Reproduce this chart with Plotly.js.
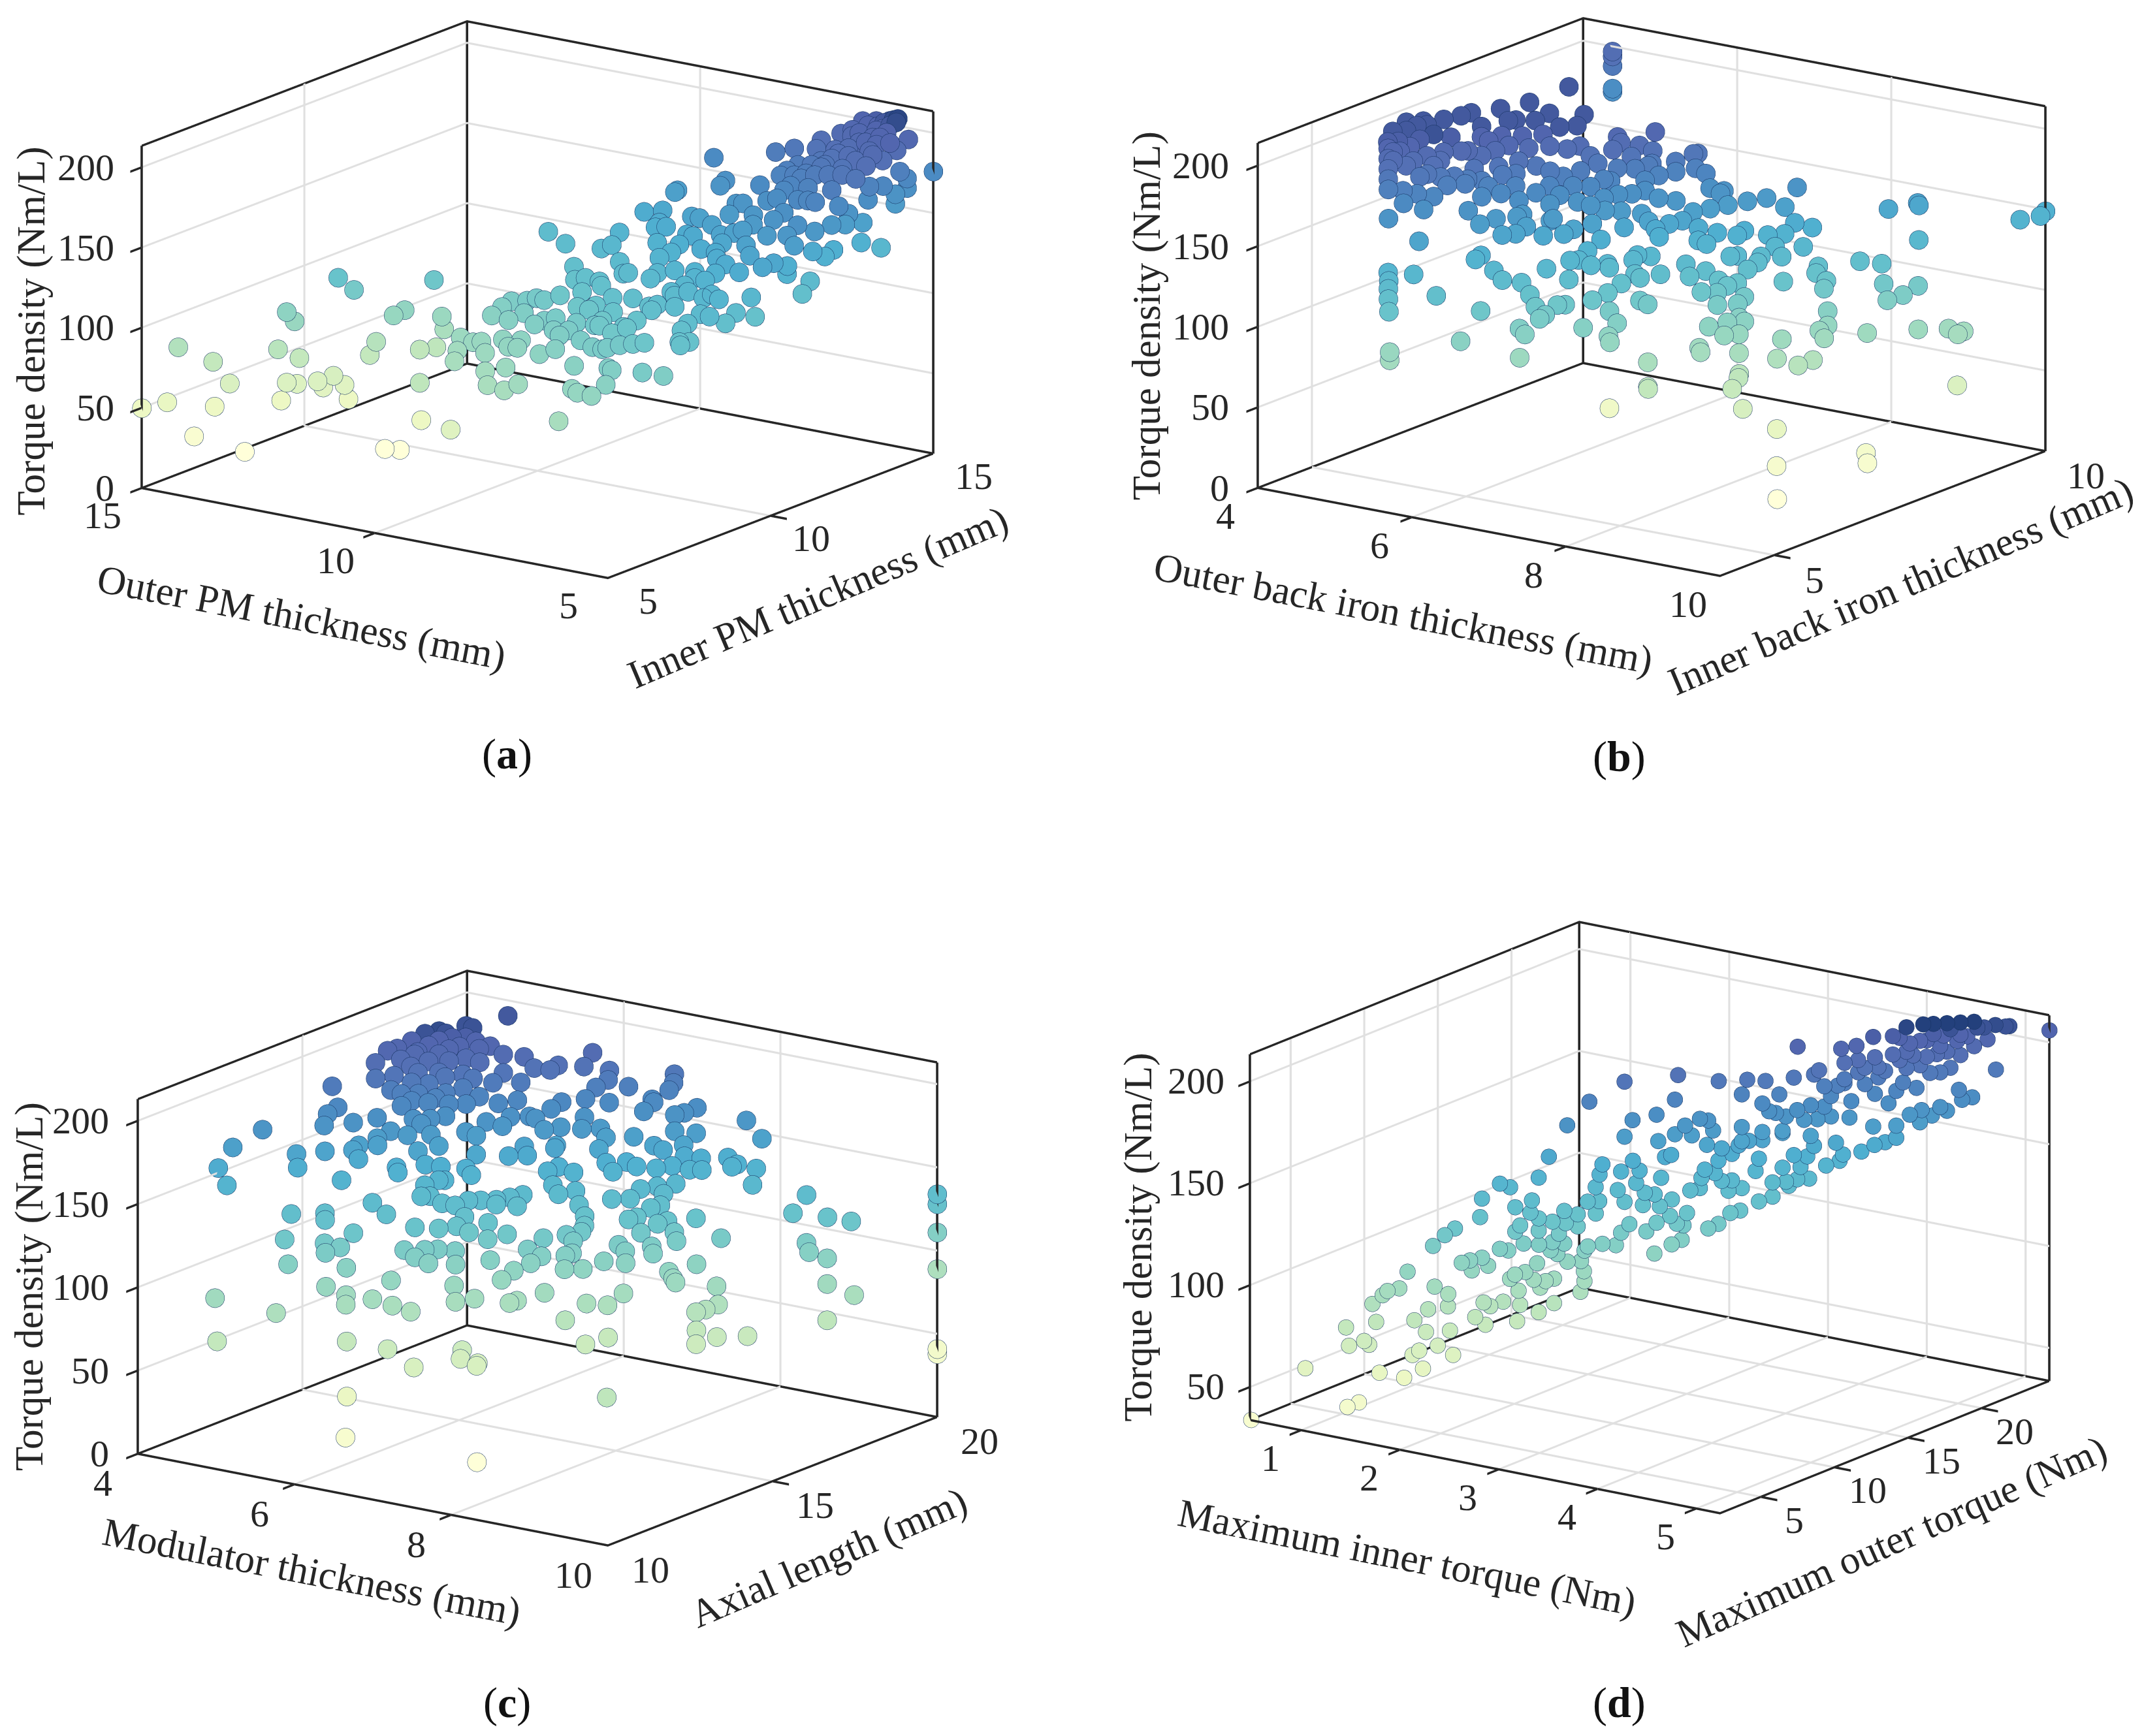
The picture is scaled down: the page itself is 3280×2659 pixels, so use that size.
<!DOCTYPE html>
<html><head><meta charset="utf-8"><script src="https://cdn.plot.ly/plotly-3.0.1.min.js"></script>
<style>html,body{margin:0;padding:0;background:#fff}#c{width:3280px;height:2659px}</style></head><body><div id="c"></div>
<script>
const W=3280,H=2659;
const aX=[15,14.68,14.54,14.34,14.10,14.08,13.89,13.70,13.28,13.24,13.17,13.17,13.07,13.04,13.01,12.78,12.71,12.58,12.44,12.39,12.52,12.32,12.12,12.04,11.93,11.74,11.82,11.68,11.49,10.19,10.57,11.31,11.28,11.21,11.18,9.20,
9.78,9.95,10.22,9.81,9.65,9.30,8.85,8.48,10.0,9.99,9.19,7.99,8.46,9.53,8.90,9.89,8.67,7.78,8.78,9.33,9.57,9.41,8.0,9.17,8.70,6.06,7.78,8.51,7.99,8.27,8.94,10.7,10.01,6.48,6.26,6.95,9.27,8.95,8.75,5.88,8.51,8.26,7.92,7.39,6.97,7.93,8.36,8.23,7.87,7.45,
7.31,6.69,5.79,6.14,6.01,6.61,7.32,7.68,6.85,9.08,8.94,9.06,8.38,8.01,7.91,6.74,6.65,6.41,6.15,5.91,7.19,5.25,5.0,9.0,8.61,7.26,8.38,8.38,8.13,7.96,7.55,7.4,6.66,6.49,6.48,6.92,7.4,6.47,6.34,7.49,7.79,7.56,7.28,5.14,5.0,5.0,5.36,6.04,5.35,6.29,6.11,5.6,5.28,5.0,5.0,5.49,5.21,5.0,5.0,5.0,5.0,5.0,
6.8,6.4,5.93,6.4,6.69,6.48,6.22,5.39,5.88,6.45,5.56,5.01,5,5,5,5,5,5,5,5,5.18,5,6.31,6.42,6.95,6.97,7.1,7.87,7.87,8.76,8.73,8.65,6.29,6.27,5.78,5.84,5.18,5,5,5,5,5,5,5,5,5,5,5,5,5,5,5,5,5.22,5.31,5.76,6.74,6.71,7.38,7.07,6.56,6.58,6.27,5.96,5.98,5.66,5.03,5.3,5,5,5,6.36,6.16,5.92,5.61,5.52,5.42,5.33,5.46,5.32,5.52,5.71,5.83,5.95,6.16,6.21,5.26,5.01,6.05,5.38,5.54,5.61,5.69,5.98,5.38,5.11,5.51,6.21,5.82,5.34,
6.43,5.96,5.65,6.08,6.63,5.94,5.56,5.36,6.16,5.85,6.31,6.46,6.19,5.64,6.97,7.13,5.88,5.99,6.34,7.25,6.61,7.39,7.93,8.82,5.53];
const aY=[5,5.32,5.46,5.66,5.90,5.92,6.11,6.30,6.72,6.76,6.83,6.83,6.93,6.96,6.99,7.22,7.29,7.42,7.56,7.61,7.48,7.68,7.88,7.96,8.07,8.26,8.18,8.32,8.51,6.65,7.24,8.69,8.72,8.79,8.82,6.18,
7.13,7.46,7.95,7.74,7.77,7.38,6.74,6.28,8.59,8.89,7.77,6.09,6.81,8.43,7.52,9.04,7.47,6.22,7.74,8.62,9.06,9.12,7.19,9.01,8.34,5.0,7.36,8.42,7.79,8.01,9.17,11.33,10.87,6.01,5.86,6.75,10.07,9.64,9.68,5.75,9.23,8.73,8.21,7.58,7.34,8.61,9.55,9.42,8.74,8.10,
8.04,7.24,6.06,6.64,6.56,7.28,8.48,8.98,7.77,10.64,10.76,11.17,10.2,9.78,9.79,7.97,7.94,7.38,7.41,7.42,8.9,6.41,6.7,11.84,11.85,9.54,11.42,11.3,11.27,10.75,10.23,10.38,8.64,8.65,8.46,9.8,10.63,9.05,8.96,10.99,11.57,11.48,10.88,7.39,7.22,7.5,7.77,8.54,7.95,9.51,9.05,8.79,8.24,8.12,8.61,8.89,8.71,8.93,9.52,9.4,10.97,11.21,
10.44,9.67,9.63,10.31,10.88,10.63,10.09,9.59,9.87,10.95,10.16,9.76,10.09,10.51,10.5,11.29,11.66,11.93,12.78,13.39,10.76,10.72,11.01,11.5,11.94,12.49,11.95,12.56,12.72,12.44,12.48,13.48,12.04,12.43,11.52,11.29,11.08,11.35,11.87,12.29,12.83,12.39,12.09,12.99,13.83,13.83,14.19,14.19,13.97,15,13.45,13.03,12.61,12.19,11.81,11.92,12.79,12.95,13.56,13.69,13.64,13.1,13.07,13.05,13.28,13.33,12.97,13.46,13.44,13.87,14.23,14.11,14.17,14.31,14.12,14.2,14.27,14.33,14.43,14.02,13.88,13.73,13.58,13.44,13.21,12.82,13.62,13.68,14.0,14.45,14.44,14.36,14.29,12.96,13.15,13.29,12.93,12.67,12.32,12.68,
12.77,12.73,12.70,13.53,13.89,14.07,13.72,13.87,14.49,14.46,12.28,11.98,11.16,10.8,11.55,11.24,10.5,9.4,9.27,9.74,8.19,8.25,7.98,8.21,11.9];
const aZ=[50,53,87,31,77,49,63,20,83,51,106,62,100,61,77,62,58,65,59,50,126,118,77,85,18,17,101,104,79,80,50,122,80,99,91,60,
92,95,98,99,100,98,94,91,108,111,104,92,98,109,103,114,104,96,106,113,116,118,106,119,114,92,109,116,113,113,122,135,135,102,102,108,131,128,130,103,126,122,118,115,115,123,131,130,125,120,
121,116,108,112,112,117,126,129,121,139,141,145,138,136,137,124,124,119,121,123,132,116,113,153,156,139,153,151,153,148,145,148,132,134,132,144,151,139,138,154,159,160,155,128,128,128,131,136,134,145,141,142,138,139,131,144,144,135,128,141,131,137,
153,147,149,154,159,157,153,153,153,161,158,157,157,152,147,155,149,151,149,141,168,163,163,168,169,176,168,170,172,162,163,176,175,180,173,170,172,167,167,164,161,170,177,174,165,171,178,172,184,176,179,182,190,185,180,178,181,183,186,189,192,186,188,190,192,195,195,199,195,198,202,199,202,205,205,206,208,210,210,206,203,200,197,194,190,185,202,204,200,211,209,208,206,189,195,199,191,183,182,190,
183,186,188,195,195,202,201,204,205,207,178,173,166,165,165,160,160,146,142,141,127,122,115,112,179];

const bX=[5.23,5.08,5.03,4.98,4.93,4.88,4.84,5.50,5.55,5.58,5.63,5.70,5.71,5.71,
4.92,4.78,4.76,4.83,4.98,5.03,5.06,5.14,4.85,4.92,4.94,5.10,5.21,5.63,5.96,5.20,4.38,4.38,4.38,4.38,4.38,
6.75,6.50,6.55,6.70,6.83,6.53,5.32,5.43,5.34,5.44,5.49,5.94,6.03,6.15,5.75,5.91,6.05,6.19,6.27,5.20,5.13,5.50,5.60,5.58,5.65,5.80,5.67,5.61,5.73,5.85,5.94,6.05,6.18,6.30,6.40,6.49,6.66,6.79,6.89,7.05,7.10,7.14,7.17,7.23,7.33,7.44,7.55,7.54,7.65,7.77,7.90,8.07,8.08,8.23,8.38,8.09,8.21,8.41,7.90,7.71,7.87,7.69,7.55,7.61,7.54,7.43,7.39,7.31,7.24,7.06,6.90,6.78,6.55,6.53,6.37,6.18,6.10,5.93,5.80,5.62,5.50,5.45,5.44,5.27,5.20,5.32,
5.78,5.93,6.02,6.16,6.28,6.15,6.24,6.45,6.43,6.64,6.59,6.75,6.89,7.0,7.15,7.30,7.25,7.11,6.97,6.89,6.79,6.61,7.0,6.87,6.92,
5.57,6.07,6.10,6.26,6.37,5.69,5.97,6.37,6.37,6.89,6.52,6.65,6.75,6.64,6.86,6.84,6.87,6.90,6.96,6.74,6.81,7.20,6.77,6.83,6.95,6.85,7.06,7.09,7.13,7.21,7.26,7.31,7.43,7.43,7.47,
7.23,7.34,7.23,7.31,7.37,7.50,7.48,7.56,7.64,7.73,7.82,7.89,8.01,8.07,7.96,8.05,8.11,8.23,8.22,8.29,8.35,8.22,8.12,8.27,8.37,8.15,8.19,8.47,7.85,7.97,7.98,6.88,8.60,8.58,8.59,8.78,9.13,9.31,9.48,9.90,9.96,10,
8.78,8.97,9.05,8.71,8.95,9.02,8.91,8.98,9.31,9.67,9.88,9.98,10,8.77,8.76,8.64,8.62,8.44,8.90,9.07,9.18,9.29,9.38,9.45,9.22,8.84,9.03,9.06,9.86,9.99,10,8.15,8.11,7.97,7.92,8.20,8.30,8.15,
5.10,5.29,5.30,5.28,5.48,5.68,5.90,5.78,5.61,5.30,5.25,5.40,5.80,6.0,6.25,6.42,6.71,6.65,6.34,6.19,6.48,6.40,6.70,6.67,5.50,4.68,4.59,4.71,4.93,4.98];
const bY=[4.66,4.87,4.94,5.01,5.08,5.15,5.20,4.27,4.21,4.16,4.09,4.0,4,4,
5.28,5.63,5.85,5.94,5.23,5.34,5.48,5.62,6.22,6.44,6.60,6.91,7.29,7.06,7.23,8.03,10,10,10,10,10,
7.42,7.08,7.07,7.20,7.26,6.95,5.49,5.72,6.22,6.57,6.64,6.50,6.68,6.83,6.14,6.28,6.47,6.59,6.71,5.41,5.26,5.49,5.85,6.01,6.15,6.32,6.74,5.58,5.67,5.88,6.0,6.22,6.29,6.36,6.54,6.73,6.85,6.99,7.16,7.37,7.30,7.57,7.61,7.48,7.53,7.45,7.55,7.50,7.48,7.67,7.84,8.16,7.92,7.89,8.0,7.59,7.73,7.79,7.43,7.20,7.34,7.03,7.08,6.99,7.31,7.15,7.01,6.88,6.73,6.73,6.58,6.45,6.51,6.30,6.20,6.03,5.83,5.74,5.57,5.52,5.36,5.18,5.01,4.88,4.97,5.06,
5.35,5.35,5.52,5.71,5.71,5.45,5.57,5.78,5.94,6.07,5.96,6.26,6.22,6.49,6.73,6.71,7.09,6.97,6.92,6.79,6.68,6.67,7.13,7.12,6.99,
4.74,5.07,5.13,5.14,5.14,4.47,4.49,4.74,4.37,4.72,5.28,5.25,5.21,5.57,5.67,5.16,5.22,5.40,5.46,4.93,4.93,5.45,5.82,5.89,5.95,6.03,6.10,6.09,5.72,5.89,6.07,5.78,5.75,5.59,5.56,
6.33,6.50,6.41,6.25,6.26,6.45,6.10,6.13,6.72,6.66,6.83,6.65,6.77,6.69,6.87,6.90,7.0,6.96,6.85,6.78,6.79,6.66,6.46,6.53,6.66,6.24,6.21,6.52,5.72,5.55,5.54,6.39,6.21,6.37,6.34,6.15,6.28,6.02,5.79,6.83,6.77,8.37,
6.78,6.90,7.06,6.97,7.32,7.31,7.53,7.43,7.69,8.12,8.38,8.41,8.49,7.66,7.72,7.70,7.77,7.38,8.14,8.30,8.18,8.09,8.25,8.43,8.77,8.75,9.02,9.0,9.73,9.92,10,7.32,7.19,7.20,7.14,7.57,7.55,7.38,
5.17,5.29,5.58,5.74,5.77,5.99,6.11,5.91,5.70,5.39,5.21,5.38,5.69,5.91,6.18,6.37,6.53,6.37,6.06,5.77,5.92,6.72,7.05,6.71,5.99,5.52,5.90,6.04,5.17,5.10];
const bZ=[170,184,189,194,199,204,207,144,140,136,131,125,100,95,
207,208,208,208,202,204,207,209,208,208,208,208,208,208,208,208,197,194,188,174,172,
202,201,198,196,193,195,196,200,208,208,208,205,208,208,201,199,199,197,198,199,197,188,197,204,206,205,208,186,185,187,187,190,187,184,186,189,186,185,187,187,182,190,190,183,180,173,171,170,164,165,166,170,161,153,150,148,148,141,151,151,149,146,154,148,163,162,158,157,155,163,165,166,178,171,175,177,174,178,177,184,184,179,173,177,183,181,
171,164,166,166,161,158,158,156,163,158,156,160,152,157,159,151,168,170,174,173,173,181,181,186,179,
158,147,149,141,136,142,131,122,108,98,134,128,122,140,134,116,118,122,122,112,109,110,143,143,140,147,140,138,123,126,130,117,111,105,102,
141,142,143,134,132,133,121,119,137,131,133,123,122,116,128,125,126,119,116,109,107,107,106,101,101,96,94,92,91,79,78,45,75,82,80,65,54,36,20,39,34,62,
88,84,86,97,100,96,109,102,97,97,96,93,94,120,124,128,131,125,132,130,120,112,114,118,140,156,158,157,146,147,149,135,132,139,139,142,137,138,
195,190,200,207,200,199,193,191,191,194,189,188,182,181,180,179,172,169,171,167,165,193,191,180,206,208,208,208,202,198];

const cX=[5.14,5.04,5.14,4.96,4.86,4.80,5.03,5.11,4.73,4.66,4.64,4.73,4.86,4.82,4.90,4.97,5.10,5.22,5.32,5.47,5.62,5.81,6.14,6.34,6.35,6.10,5.96,5.94,5.73,5.48,5.35,5.23,5.06,4.95,5.03,4.93,5.05,5.19,5.29,5.50,5.68,5.42,5.39,5.31,5.16,5.11,
4.42,4.60,4.55,4.59,4.12,4,4,4.16,4.54,4.63,4.76,4.81,4.98,5.10,5.15,4.99,4.97,5.07,5.17,5.33,5.28,5.42,5.53,5.52,5.48,5.79,5.89,5.89,6.05,6.06,6.01,5.88,6.21,6.27,6.41,6.34,6.53,6.39,6.71,6.56,6.66,6.58,6.58,6.63,6.77,6.84,7.11,7.10,7.14,7.14,7.18,7.19,7.52,7.38,7.45,7.67,7.48,7.18,6.86,6.96,6.97,7.11,7.22,7.27,7.38,7.55,7.40,7.50,7.64,7.71,7.67,7.83,7.94,7.86,8.07,8.16,8.19,8.0,8.24,8.37,8.44,8.93,8.94,9.24,9.46,9.22,9.30,9.48,9.64,9.93,9.85,10,10,10,10,10,10,
6.28,6.43,6.35,6.60,6.61,6.69,6.76,6.90,6.82,6.92,7.03,7.15,7.26,7.32,7.32,7.22,7.31,7.34,7.38,7.41,7.56,6.99,7.15,7.06,7.10,7.01,6.96,7.39,7.22,7.17,7.73,7.80,7.98,8.04,8.18,8.03,7.68,7.70,7.79,7.87,7.98,8.04,8.28,8.35,8.39,8.46,8.50,8.75,8.87,8.74,8.80,8.85,8.93,9.06,9.30,8.08,8.15,7.90,7.81,7.63,7.69,7.75,7.96,7.81,7.77,7.80,7.52,7.37,7.54,7.66,8.18,
6.01,6.09,6.01,5.79,5.65,5.85,5.90,5.77,5.80,5.87,6.02,6.14,6.22,6.32,6.44,6.54,6.63,6.65,6.47,6.29,6.28,6.14,5.95,6.51,6.74,6.61,6.41,6.76,6.41,6.26,6.16,5.99,6.13,6.27,6.49,6.61,6.72,6.85,6.07,6.03,5.79,5.85,5.58,5.63,5.48,5.45,5.64,5.06,5.48,5.43,4.86,5.13,5.17,4.96,5.13,5.31,5.38,5.46,4.74,5.33,5.01,6.08,6.45,6.78,7.07,7.10,7.27,7.28,6.41,6.64,7.86,9.66,6.23,6.41,
5.04,5.21,5.52,5.71,5.17,5.34,5.62,4.91,5.15,5.40,5.02,5.22,5.38,5.65,5.51];
const cY=[18.52,17.49,17.45,16.86,16.67,16.41,16.90,16.90,16.14,16.01,15.69,15.48,15.73,16.03,16.26,16.52,16.52,16.86,17.12,17.20,17.24,17.42,17.67,18.24,17.95,17.52,17.37,17.01,16.98,16.86,16.75,16.52,16.30,16.03,15.55,15.47,15.81,16.0,16.26,16.30,16.37,16.49,16.04,15.70,15.55,15.36,
14.90,14.64,14.45,14.25,13.50,12.88,12.44,12.32,13.53,13.35,13.87,14.61,14.93,14.65,14.54,14.35,14.22,14.15,14.89,15.02,15.32,15.50,15.70,15.28,15.92,15.70,15.78,16.08,16.19,16.41,16.74,16.47,16.63,16.67,16.60,16.98,16.82,17.18,17.03,17.50,17.23,17.77,18.18,18.02,17.72,18.14,17.96,18.24,18.19,18.82,18.70,18.54,18.60,18.26,18.38,18.22,18.02,17.49,17.24,17.17,16.93,16.82,16.76,17.06,17.10,17.29,17.58,17.62,17.91,17.77,17.49,17.64,17.75,17.92,18.23,18.14,18.23,18.96,18.86,18.38,18.10,18.16,18.55,18.47,18.67,17.88,17.77,17.89,17.51,17.64,17.01,20,20,20,20,20,20,
15.83,16.04,16.14,16.52,16.45,16.04,16.21,16.33,15.89,15.82,16.08,15.90,15.81,15.66,15.57,15.35,15.34,15.03,15.14,14.84,15.04,14.72,14.76,15.03,14.55,14.25,14.0,14.28,13.85,13.74,14.10,14.58,14.79,15.13,14.33,14.0,15.39,15.79,15.78,15.60,16.13,16.03,15.94,15.90,15.88,16.35,17.0,16.27,16.03,15.67,15.82,15.42,15.22,15.54,15.90,16.58,16.48,16.50,16.21,16.26,16.37,16.65,16.66,16.80,16.99,17.29,16.57,16.37,16.84,17.06,17.0,
15.18,15.15,15.49,14.94,14.80,14.73,14.79,14.50,14.32,14.42,14.43,14.54,14.75,14.89,15.08,15.25,15.43,15.21,15.0,14.47,14.25,14.04,13.77,14.66,14.69,14.41,14.32,14.13,13.90,13.73,13.57,13.35,13.34,13.42,13.72,13.39,13.17,13.44,12.76,12.29,12.06,11.91,11.95,12.45,13.02,13.67,13.64,13.66,14.37,14.45,12.61,12.99,12.90,12.17,11.87,12.55,12.41,12.67,10.58,11.03,10,11.39,11.75,11.76,12.54,12.42,12.54,12.48,10.61,10.02,11.11,10.77,12.42,12.55,
16.03,16.26,16.56,16.71,15.73,15.85,16.11,16.33,16.71,17.03,16.71,17.05,15.32,15.21,14.91];
const cZ=[208,209,209,210,209,206,209,207,203,202,197,190,191,198,200,204,200,203,205,203,199,198,194,199,193,192,193,187,191,196,198,197,197,195,183,185,188,187,190,185,181,191,183,179,180,178,
187,178,175,170,169,162,153,145,158,152,159,171,173,164,161,161,159,155,167,165,172,172,173,165,178,166,164,170,168,172,179,178,172,171,166,175,167,178,166,179,171,184,191,187,177,184,173,178,177,189,185,182,174,171,172,163,164,162,166,162,157,151,147,151,149,148,158,156,158,153,149,147,147,152,152,148,149,168,160,147,140,127,135,125,123,114,110,107,96,91,80,134,128,111,89,41,38,
155,155,159,159,158,148,150,147,142,138,139,133,128,124,121,120,117,111,112,105,105,114,111,119,108,105,101,95,92,91,83,90,89,94,75,72,108,115,112,107,114,111,103,100,98,106,117,96,88,85,86,77,71,74,74,120,116,124,120,126,127,131,125,132,137,141,135,135,139,140,126,
150,147,156,151,152,145,145,143,138,138,135,134,136,136,136,137,138,133,134,129,125,124,125,126,121,119,122,110,114,115,115,115,112,109,108,99,92,93,102,94,96,92,100,108,123,136,131,146,149,151,132,132,129,121,110,119,115,117,96,89,77,76,72,64,71,67,65,64,52,34,22,80,91,88,
192,192,189,187,183,181,178,201,202,202,206,207,170,160,158];

const dX=[0.49,1.06,1.13,0.81,1.25,1.40,1.51,1.19,1.16,1.07,1.05,1.23,1.45,1.49,1.60,1.69,1.67,1.53,1.46,1.54,1.21,1.27,1.30,1.37,1.42,1.58,1.66,1.66,1.82,1.88,1.87,1.91,1.99,2.09,2.07,2.20,2.29,2.45,2.47,2.47,2.45,2.47,2.49,1.57,1.64,1.70,1.74,1.79,1.80,1.86,1.90,1.97,2.02,2.03,2.06,2.12,2.17,2.21,2.24,2.29,2.08,2.19,
1.97,2.03,1.86,1.85,2.06,2.16,2.09,2.06,2.15,2.20,2.20,2.11,2.27,2.31,2.20,2.28,2.35,2.37,2.32,2.28,2.36,2.43,2.43,2.35,2.37,2.26,2.20,2.50,2.71,3.03,3.27,3.01,2.90,2.76,2.71,2.91,2.95,2.99,2.58,2.56,2.54,2.49,2.56,2.54,2.67,2.69,2.76,2.80,2.78,2.71,2.74,2.69,2.66,2.58,2.84,2.89,2.99,3.05,3.08,2.99,2.89,2.83,2.82,2.93,2.92,2.90,2.98,3.02,3.06,3.10,3.16,
3.21,3.27,3.34,3.40,3.51,3.59,3.69,3.81,3.91,3.99,4.01,4.12,4.20,4.26,4.33,4.33,4.19,3.97,4.05,4.41,4.47,4.48,4.54,4.63,4.59,4.70,4.72,4.78,4.92,5.24,3.01,3.07,3.16,3.21,3.24,3.11,3.20,3.29,3.35,3.27,3.19,3.17,3.25,3.29,3.35,3.33,3.41,3.49,3.51,3.59,3.67,3.74,3.65,3.72,3.76,3.80,3.84,3.41,3.45,3.53,3.57,3.65,3.65,3.67,3.74,3.78,3.82,3.86,3.90,3.94,3.98,4.02,4.06,4.14,4.20,4.28,4.33,4.37,4.45,4.53,4.59,4.65,4.71,4.79,4.87,4.98,5.0,4.92,4.85,4.79,4.71,4.63,4.55,4.49,4.39,4.35,4.31,4.19,4.09,4.0,3.74,3.55,3.44,3.41,3.53,3.63,3.72,3.84,3.87,4.02,4.10,4.20,4.31,4.39,4.47,4.57,4.41,4.51,4.61,4.71,4.81,4.55,4.65,4.75,4.10,4.26,3.41,3.39,3.53,3.61,
4.47,4.59,4.69,4.43,4.35,4.22,4.51,4.14,4.02,3.90,3.94,3.82,4.22,4.39,4.63];
const dY=[2.25,4.96,5.27,3.78,5.86,6.53,7.07,5.56,5.42,5.0,4.93,5.77,6.76,6.95,7.47,7.91,7.83,7.14,6.82,7.22,5.65,5.94,6.07,6.40,6.63,7.39,7.78,7.76,8.54,8.83,8.77,8.96,9.30,9.78,9.71,10.30,10.74,11.46,11.60,11.56,11.50,11.60,11.69,7.35,7.68,7.97,8.16,8.39,8.44,8.73,8.88,9.21,9.44,9.50,9.63,9.92,10.16,10.34,10.51,10.74,9.74,10.26,
9.21,9.50,8.73,8.67,9.65,10.11,9.78,9.65,10.07,10.30,10.30,9.88,10.64,10.83,10.32,10.70,11.03,11.12,10.87,10.70,11.06,11.41,11.41,11.03,11.10,10.59,10.30,11.73,12.71,14.20,15.35,14.12,13.61,12.92,12.71,13.66,13.85,14.0,12.08,12.02,11.89,11.68,12.0,11.90,12.52,12.61,12.94,13.13,13.03,12.71,12.84,12.61,12.46,12.08,13.32,13.53,14.03,14.31,14.47,14.05,13.55,13.28,13.22,13.72,13.70,13.61,13.99,14.18,14.37,14.56,14.81,
15.04,15.33,15.67,15.94,16.47,16.86,17.30,17.87,18.35,18.73,18.83,19.34,19.69,20.01,20.30,20.30,19.67,18.62,19.0,20.68,20.97,21.01,21.31,21.73,21.54,22.07,22.15,22.44,23.11,24.6,14.12,14.41,14.81,15.04,15.17,14.60,15.02,15.42,15.71,15.33,14.94,14.85,15.23,15.42,15.71,15.61,15.98,16.38,16.47,16.86,17.24,17.53,17.14,17.43,17.62,17.81,18.0,15.98,16.19,16.57,16.76,17.14,17.14,17.24,17.53,17.72,17.91,18.10,18.29,18.48,18.67,18.86,19.06,19.44,19.72,20.11,20.30,20.49,20.87,21.25,21.54,21.83,22.11,22.50,22.88,23.36,23.49,23.07,22.78,22.50,22.11,21.73,21.35,21.06,20.59,20.39,20.2,19.67,19.21,18.77,17.56,16.65,16.15,15.98,16.57,17.05,17.43,18.0,18.14,18.86,19.25,19.72,20.2,20.59,20.97,21.45,20.68,21.16,21.64,22.11,22.59,21.35,21.83,22.31,19.25,20.01,15.98,15.90,16.57,16.95,
20.97,21.54,22.02,20.78,20.39,19.82,21.16,19.44,18.86,18.29,18.48,17.91,19.82,20.59,21.73];
const dZ=[34,38,40,58,54,51,55,68,70,68,77,79,62,64,66,61,73,73,79,84,88,92,94,95,103,95,91,85,79,75,86,84,86,84,76,80,84,89,94,99,104,109,111,115,120,123,106,107,102,108,104,112,111,97,99,100,96,92,95,96,91,104,
144,142,137,128,132,135,123,120,129,126,120,114,110,108,113,114,113,104,118,124,123,121,127,129,171,156,146,182,191,193,189,181,174,172,164,161,153,154,151,146,140,133,133,127,138,147,152,147,141,132,121,117,111,112,117,106,110,112,125,132,135,136,130,143,129,121,124,120,119,136,137,
117,119,124,125,129,131,136,139,145,147,150,151,154,155,157,163,163,156,168,168,164,170,167,169,171,179,174,175,188,206,164,168,171,170,165,163,158,156,153,150,146,142,144,140,140,135,136,144,150,138,138,139,145,151,145,150,155,159,159,159,173,163,162,170,173,168,175,168,174,179,184,185,176,184,179,174,180,184,181,188,188,190,196,200,203,209,209,210,209,212,212,212,212,212,211,206,207,207,203,202,204,188,189,182,177,181,189,190,192,195,196,197,198,191,192,197,203,204,206,206,209,207,209,205,190,190,166,157,163,172,
204,201,203,197,195,192,196,192,187,184,169,160,187,199,198];

const ticksZ=[0,50,100,150,200];
const cs=[[0,'#ffffd9'],[0.16,'#edf8c4'],[0.31,'#c0e6bc'],[0.42,'#98d7c0'],[0.55,'#68c3cb'],[0.68,'#4fb0d0'],[0.81,'#4b8cc3'],[0.91,'#5470b5'],[0.97,'#5164ad'],[1,'#23407c']];
const P=[
 {id:'scene',X:aX,Y:aY,Z:aZ,xr:[15,5],yr:[5,15],zr:[0,213.4],xt:[10],yt:[10],zt:ticksZ,xl:[5,10,15],yl:[5,10,15],xn:'Outer PM thickness (mm)',yn:'Inner PM thickness (mm)',
  cap:'a',capx:776,capy:1155,e1:[715,138],e2:[499,-191],h:525,cx:823,cy:459,hw:780,hh:450,ms:17,
  xo:[-60,42],yo:[62,35],zo:-40,xto:[-112,130],yto:[73,125],zto:[-168,21]},
 {id:'scene2',X:bX,Y:bY,Z:bZ,xr:[4,10],yr:[4,10],zr:[0,214],xt:[6,8],yt:[5],zt:ticksZ,xl:[4,6,8,10],yl:[5,10],xn:'Outer back iron thickness (mm)',yn:'Inner back iron thickness (mm)',
  cap:'b',capx:2479,capy:1159,e1:[709,135],e2:[499,-191.5],h:529,cx:2529,cy:455,hw:740,hh:450,ms:17,
  xo:[-49,43],yo:[62,38],zo:-42,xto:[-131,125],yto:[28,112],zto:[-170,0]},
 {id:'scene3',X:cX,Y:cY,Z:cZ,xr:[4,10],yr:[10,20],zr:[0,213],xt:[6,8],yt:[15],zt:ticksZ,xl:[4,6,8,10],yl:[10,15,20],xn:'Modulator thickness (mm)',yn:'Axial length (mm)',
  cap:'c',capx:776,capy:2608,e1:[721,140.6],e2:[505,-197],h:544,cx:823,cy:1927,hw:780,hh:450,ms:17,
  xo:[-53,45],yo:[65,37],zo:-42,xto:[-93,111],yto:[86,117],zto:[-166,15]},
 {id:'scene4',X:dX,Y:dY,Z:dZ,xr:[0.481,5.24],yr:[2.23,24.6],zr:[33.8,213.3],xt:[1,2,3,4,5],yt:[5,10,15,20],zt:[50,100,150,200],xl:[1,2,3,4,5],yl:[5,10,15,20],xn:'Maximum inner torque (Nm)',yn:'Maximum outer torque (Nm)',
  cap:'d',capx:2479,capy:2608,e1:[721,143],e2:[505,-203],h:561,cx:2526,cy:1864.5,hw:740,hh:460,ms:14,
  xo:[-47,43],yo:[51,36],zo:-37,xto:[-119,140],yto:[11,145],zto:[-171,0]}
];
const FONT='Liberation Serif',INK='#262626',GRID='#e0e0e0';
const ZOOM=1.775*450,PAD=0.06;
const data=[],layout={width:W,height:H,paper_bgcolor:'#fff',margin:{l:0,r:0,t:0,b:0},showlegend:false,annotations:[]};
function meshFrom(scene,segs,color){
 const x=[],y=[],z=[],i=[],j=[],k=[];
 segs.forEach(([a,b,o])=>{const n=x.length;
  [[a,-1],[a,1],[b,1],[b,-1]].forEach(([q,s])=>{x.push(q[0]+s*o[0]);y.push(q[1]+s*o[1]);z.push(q[2]+s*o[2]);});
  i.push(n,n);j.push(n+1,n+2);k.push(n+2,n+3);});
 return {type:'mesh3d',scene,x,y,z,i,j,k,color,opacity:1,hoverinfo:'skip',flatshading:true,showscale:false,
  lighting:{ambient:1,diffuse:0,specular:0,roughness:1,fresnel:0},lightposition:{x:0,y:0,z:1e5}};
}
P.forEach(p=>{
 const r1=p.e1[1]/p.e1[0],r2=-p.e2[1]/p.e2[0];
 const sinT=Math.sqrt(r1*r2),th=Math.asin(sinT),al=Math.atan(r1/sinT);
 const L1=p.e1[0]/Math.cos(al),L2=p.e2[0]/Math.sin(al),Lz=p.h/Math.cos(th);
 const d=1.5,G=(1+2*PAD)*ZOOM/p.hh/800;
 const [x0,x1]=p.xr,[y0,y1]=p.yr,[z0,z1]=p.zr;
 const dx=x1-x0,dy=y1-y0,dz=z1-z0;
 const hz=w=>[0,0,w/2*dz/p.h], hx=w=>[w/2*dx/p.e1[0],0,0], hy=w=>[0,w/2*dy/p.e2[0],0];
 const grid=[],box=[],gw=3.2,bw=3.6;
 p.xt.forEach(t=>{grid.push([[t,y0,z0],[t,y1,z0],hz(gw)]);grid.push([[t,y1,z0],[t,y1,z1],hx(gw)]);
   box.push([[t,y0,z0],[t,y0-0.035*dy,z0],hz(bw)]);});
 p.yt.forEach(t=>{grid.push([[x0,t,z0],[x1,t,z0],hz(gw)]);grid.push([[x0,t,z0],[x0,t,z1],hy(gw)]);
   box.push([[x1,t,z0],[x1+0.035*dx,t,z0],hz(bw)]);});
 p.zt.forEach(t=>{if(t!==z0){grid.push([[x0,y0,t],[x0,y1,t],hz(gw)]);grid.push([[x0,y1,t],[x1,y1,t],hz(gw)]);}
   box.push([[x0,y0,t],[x0,y0-0.035*dy,t],hz(bw)]);});
 box.push([[x0,y0,z0],[x1,y0,z0],hz(bw)],[[x1,y0,z0],[x1,y1,z0],hz(bw)],[[x1,y1,z0],[x0,y1,z0],hz(bw)],[[x0,y1,z0],[x0,y0,z0],hz(bw)],
  [[x0,y0,z0],[x0,y0,z1],hx(bw)],[[x0,y1,z0],[x0,y1,z1],hx(bw)],[[x1,y1,z0],[x1,y1,z1],hx(bw)],
  [[x0,y0,z1],[x0,y1,z1],hz(bw)],[[x0,y1,z1],[x1,y1,z1],hz(bw)]);
 data.push(meshFrom(p.id,grid,GRID),meshFrom(p.id,box,INK));
 data.push({type:'scatter3d',scene:p.id,mode:'markers',x:p.X,y:p.Y,z:p.Z,hoverinfo:'skip',
  marker:{size:p.ms,color:p.Z,cmin:20,cmax:212,colorscale:cs,opacity:1,line:{color:'#14305f',width:8}}});
 const ax=(r)=>({range:[r[0]-PAD*(r[1]-r[0]),r[1]+PAD*(r[1]-r[0])],showticklabels:false,ticks:'',showgrid:false,zeroline:false,showline:false,showbackground:false,showspikes:false,title:{text:''}});
 const an=[];
 const f={family:FONT,size:58,color:INK};
 p.xl.forEach(t=>an.push({x:t,y:y0,z:z0,text:String(t),showarrow:false,xshift:p.xo[0],yshift:-p.xo[1],font:f}));
 p.yl.forEach(t=>an.push({x:x1,y:t,z:z0,text:String(t),showarrow:false,xshift:p.yo[0],yshift:-p.yo[1],font:f}));
 p.zt.forEach(t=>an.push({x:x0,y:y0,z:t,text:String(t),showarrow:false,xanchor:'right',xshift:p.zo,font:f}));
 const tf={family:FONT,size:61,color:INK};
 const angX=Math.atan2(p.e1[1],p.e1[0])*180/Math.PI, angY=Math.atan2(p.e2[1],p.e2[0])*180/Math.PI;
 an.push({x:(x0+x1)/2,y:y0,z:z0,text:p.xn,showarrow:false,textangle:angX,xshift:p.xto[0],yshift:-p.xto[1],font:tf});
 an.push({x:x1,y:(y0+y1)/2,z:z0,text:p.yn,showarrow:false,textangle:angY-2,xshift:p.yto[0],yshift:-p.yto[1],font:tf});
 an.push({x:x0,y:y0,z:(z0+z1)/2,text:'Torque density (Nm/L)',showarrow:false,textangle:-90,xshift:p.zto[0],yshift:-p.zto[1],font:tf});
 layout[p.id]={domain:{x:[(p.cx-p.hw)/W,(p.cx+p.hw)/W],y:[1-(p.cy+p.hh)/H,1-(p.cy-p.hh)/H]},
  aspectmode:'manual',aspectratio:{x:G*L1,y:G*L2,z:G*Lz},dragmode:false,bgcolor:'rgba(0,0,0,0)',
  camera:{projection:{type:'orthographic'},up:{x:0,y:0,z:1},center:{x:0,y:0,z:0},
   eye:{x:d*Math.cos(th)*Math.sin(al),y:-d*Math.cos(th)*Math.cos(al),z:d*Math.sin(th)}},
  xaxis:ax(p.xr),yaxis:ax(p.yr),zaxis:ax(p.zr),annotations:an};
 layout.annotations.push({xref:'paper',yref:'paper',x:p.capx/W,y:1-p.capy/H,xanchor:'center',yanchor:'middle',text:'(<b>'+p.cap+'</b>)',showarrow:false,font:{family:FONT,size:66,color:'#111'}});
});
Plotly.newPlot('c',data,layout,{displayModeBar:false});
</script></body></html>
